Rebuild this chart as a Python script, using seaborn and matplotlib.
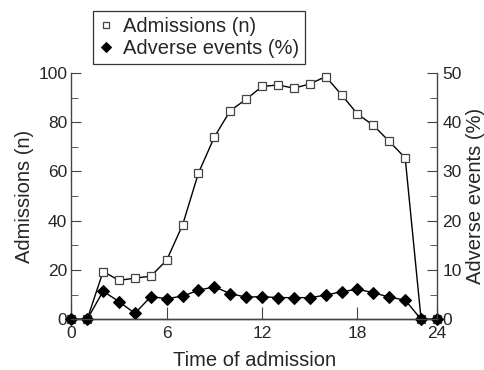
import matplotlib
matplotlib.use("Agg")
import matplotlib.pyplot as plt
import seaborn as sns
from matplotlib.ticker import MultipleLocator

sns.set_style("ticks")
plt.rcParams['font.family'] = ['Liberation Sans', 'DejaVu Sans']

# hour of admission (axis runs 0..23, last tick is labelled 24 in the original)
hours = list(range(24))
admissions = [0, 0, 19.4, 15.8, 16.7, 17.5, 24, 38.3, 59.4, 74, 84.7, 89.3,
              94.5, 95.1, 93.8, 95.5, 98.5, 91.1, 83.3, 78.7, 72.2, 65.5, 0, 0]
adverse = [0, 0, 5.7, 3.6, 1.2, 4.6, 4.2, 4.7, 5.9, 6.6, 5.2, 4.5,
           4.6, 4.4, 4.4, 4.4, 4.9, 5.6, 6.1, 5.4, 4.5, 3.9, 0, 0]
tick_pos = [0, 6, 12, 18, 23]
tick_lab = ["0", "6", "12", "18", "24"]

fig = plt.figure(figsize=(4.85, 3.7), dpi=100)
ax = fig.add_axes([0.147, 0.137, 0.754, 0.666])
ax2 = ax.twinx()

sns.lineplot(x=hours, y=admissions, ax=ax, color='black', lw=1,
             marker='s', markersize=5.4, markerfacecolor='white',
             markeredgecolor='#444444', markeredgewidth=0.9, clip_on=False,
             label='Admissions (n)', legend=False)
sns.lineplot(x=hours, y=adverse, ax=ax2, color='black', lw=1,
             marker='D', markersize=6.3, markerfacecolor='black',
             markeredgecolor='black', clip_on=False,
             label='Adverse events (%)', legend=False)

ax.set_xlim(0, 23)
ax.set_ylim(0, 100)
ax2.set_ylim(0, 50)
ax.set_xticks(tick_pos)
ax.set_xticklabels(tick_lab)
ax.yaxis.set_major_locator(MultipleLocator(20))
ax.yaxis.set_minor_locator(MultipleLocator(10))
ax2.yaxis.set_major_locator(MultipleLocator(10))
ax2.yaxis.set_minor_locator(MultipleLocator(5))

for a in (ax, ax2):
    a.spines['top'].set_visible(False)
    for s in a.spines.values():
        s.set_color('#444444')
        s.set_linewidth(1)
    a.tick_params(which='both', direction='in', labelsize=12.5, color='#444444')
    a.tick_params(which='major', length=7.5)
    a.tick_params(which='minor', length=5)
ax.spines['right'].set_visible(False)
ax2.spines['left'].set_visible(False)
ax.tick_params(axis='x', length=8.5, pad=5)
ax.tick_params(axis='y', pad=3)
ax2.tick_params(axis='y', pad=4)

ax.set_xlabel("Time of admission", fontsize=14.5, labelpad=7)
ax.set_ylabel("Admissions (n)", fontsize=14.5, labelpad=3)
ax2.set_ylabel("Adverse events (%)", fontsize=14.5, rotation=90, labelpad=3)

h1, l1 = ax.get_legend_handles_labels()
h2, l2 = ax2.get_legend_handles_labels()
leg = fig.legend(h1 + h2, l1 + l2, loc='upper left',
                 bbox_to_anchor=(0.191, 0.97), frameon=True, fancybox=False,
                 edgecolor='black', fontsize=14.5, handlelength=0.7,
                 handletextpad=0.5, borderpad=0.3, labelspacing=0.12,
                 borderaxespad=0, markerscale=0.75)
leg.get_frame().set_linewidth(0.9)
for lh in leg.legend_handles:
    lh.set_linestyle('None')

fig.savefig("out.png", dpi=100)
